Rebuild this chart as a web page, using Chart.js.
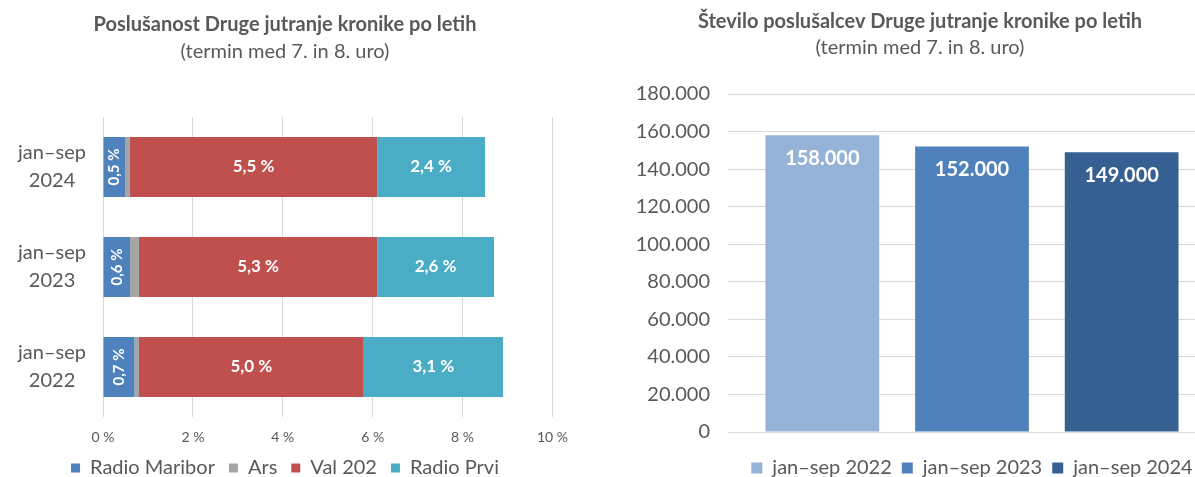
<!DOCTYPE html>
<html>
<head>
<meta charset="utf-8">
<script src="https://cdn.jsdelivr.net/npm/chart.js@4.4.1/dist/chart.umd.min.js"></script>
<style>
  html, body { margin: 0; padding: 0; background: #fff; overflow: hidden; }
  #left { position: absolute; left: 14px; top: 0; width: 566px; height: 488px; }
  #right { position: absolute; left: 624px; top: 0; width: 616px; height: 488px; }
</style>
</head>
<body>
<div id="left"><canvas id="chartLeft"></canvas></div>
<div id="right"><canvas id="chartRight"></canvas></div>
<script>
// left chart: share of listeners by station
const periods = [['jan–sep', '2024'], ['jan–sep', '2023'], ['jan–sep', '2022']];
const maribor = [0.5, 0.6, 0.7];
const ars = [0.1, 0.2, 0.1];
const val202 = [5.5, 5.3, 5.0];
const prvi = [2.4, 2.6, 3.1];
const shareTicks = [0, 2, 4, 6, 8, 10];

// right chart: number of listeners
const years = ['jan–sep 2022', 'jan–sep 2023', 'jan–sep 2024'];
const listeners = [158000, 152000, 149000];
const listenerTicks = [0, 20000, 40000, 60000, 80000, 100000, 120000, 140000, 160000, 180000];

const FONT = 'Lato, "Liberation Sans", sans-serif';
const GREY = '#595959';
Chart.defaults.font.family = FONT;
Chart.defaults.color = GREY;

function pct(v) { return v.toFixed(1).replace('.', ',') + ' %'; }
function thousands(v) { return String(v).replace(/\B(?=(\d{3})+(?!\d))/g, '.'); }

// draws white value labels inside the bars
const barLabels = {
  id: 'barLabels',
  afterDatasetsDraw(chart) {
    const ctx = chart.ctx;
    chart.data.datasets.forEach((ds, i) => {
      if (!ds.labelMode) return;
      const meta = chart.getDatasetMeta(i);
      meta.data.forEach((bar, j) => {
        const v = ds.data[j];
        ctx.save();
        ctx.fillStyle = '#fff';
        ctx.textAlign = 'center';
        ctx.textBaseline = 'middle';
        if (ds.labelMode === 'rotated') {
          ctx.font = 'bold 15px ' + FONT;
          ctx.translate((bar.x + bar.base) / 2, bar.y);
          ctx.rotate(-Math.PI / 2);
          ctx.fillText(pct(v), 0, 0);
        } else if (ds.labelMode === 'center') {
          ctx.font = 'bold 17px ' + FONT;
          ctx.fillText(pct(v), (bar.x + bar.base) / 2, bar.y);
        } else if (ds.labelMode === 'top') {
          ctx.font = 'bold 20px ' + FONT;
          ctx.fillText(thousands(v), bar.x, bar.y + 23);
        }
        ctx.restore();
      });
    });
  }
};

new Chart(document.getElementById('chartLeft'), {
  type: 'bar',
  plugins: [barLabels],
  data: {
    labels: periods,
    datasets: [
      { label: 'Radio Maribor', data: maribor, backgroundColor: '#4F81BD', labelMode: 'rotated' },
      { label: 'Ars', data: ars, backgroundColor: '#A5A5A5' },
      { label: 'Val 202', data: val202, backgroundColor: '#C0504D', labelMode: 'center' },
      { label: 'Radio Prvi', data: prvi, backgroundColor: '#4BACC6', labelMode: 'center' }
    ]
  },
  options: {
    indexAxis: 'y',
    responsive: true,
    maintainAspectRatio: false,
    animation: false,
    categoryPercentage: 0.6,
    barPercentage: 1,
    layout: { padding: { left: 0, right: 24, top: 0, bottom: 0 } },
    scales: {
      x: {
        stacked: true, min: 0, max: 10,
        afterBuildTicks: s => { s.ticks = shareTicks.map(v => ({ value: v })); },
        afterFit: s => { s.height = 27; },
        ticks: { callback: v => v + ' %', font: { size: 14 }, color: GREY, padding: 12 },
        grid: { color: '#d9d9d9', drawTicks: false },
        border: { display: false }
      },
      y: {
        stacked: true,
        afterFit: s => { s.width = 89; },
        ticks: { font: { size: 20, lineHeight: 1.4 }, color: GREY, crossAlign: 'center', padding: 9 },
        grid: { display: false },
        border: { display: false }
      }
    },
    plugins: {
      title: { display: true, text: 'Poslušanost Druge jutranje kronike po letih', color: GREY,
        font: { size: 20, weight: 'bold' }, padding: { top: 13, bottom: 3 } },
      subtitle: { display: true, text: '(termin med 7. in 8. uro)', color: GREY,
        font: { size: 20 }, padding: { top: 0, bottom: 53 } },
      legend: { position: 'bottom',
        labels: { boxWidth: 9, boxHeight: 9, padding: 14, font: { size: 20 }, color: GREY } },
      tooltip: { enabled: false }
    }
  }
});

const blues = ['#95B3D7', '#4F81BD', '#366092'];
new Chart(document.getElementById('chartRight'), {
  type: 'bar',
  plugins: [barLabels],
  data: {
    labels: [''],
    datasets: years.map((y, i) => ({
      label: y, data: [listeners[i]], backgroundColor: blues[i], labelMode: 'top'
    }))
  },
  options: {
    responsive: true,
    maintainAspectRatio: false,
    animation: false,
    categoryPercentage: 0.92,
    barPercentage: 0.76,
    layout: { padding: { left: 0, right: 24, top: 0, bottom: 0 } },
    scales: {
      x: {
        afterFit: s => { s.height = 16; },
        ticks: { display: false },
        grid: { display: false },
        border: { display: false }
      },
      y: {
        min: 0, max: 180000,
        afterBuildTicks: s => { s.ticks = listenerTicks.map(v => ({ value: v })); },
        afterFit: s => { s.width = 104; },
        ticks: { callback: v => thousands(v), font: { size: 20 }, color: GREY, padding: 18 },
        grid: { color: '#d9d9d9', drawTicks: false },
        border: { display: false }
      }
    },
    plugins: {
      title: { display: true, text: 'Število poslušalcev Druge jutranje kronike po letih', color: GREY,
        font: { size: 20, weight: 'bold' }, padding: { top: 10, bottom: 2 } },
      subtitle: { display: true, text: '(termin med 7. in 8. uro)', color: GREY,
        font: { size: 20 }, padding: { top: 0, bottom: 34 } },
      legend: { position: 'bottom', fullSize: false,
        labels: { boxWidth: 11, boxHeight: 11, padding: 10, font: { size: 20 }, color: GREY } },
      tooltip: { enabled: false }
    }
  }
});
</script>
</body>
</html>
